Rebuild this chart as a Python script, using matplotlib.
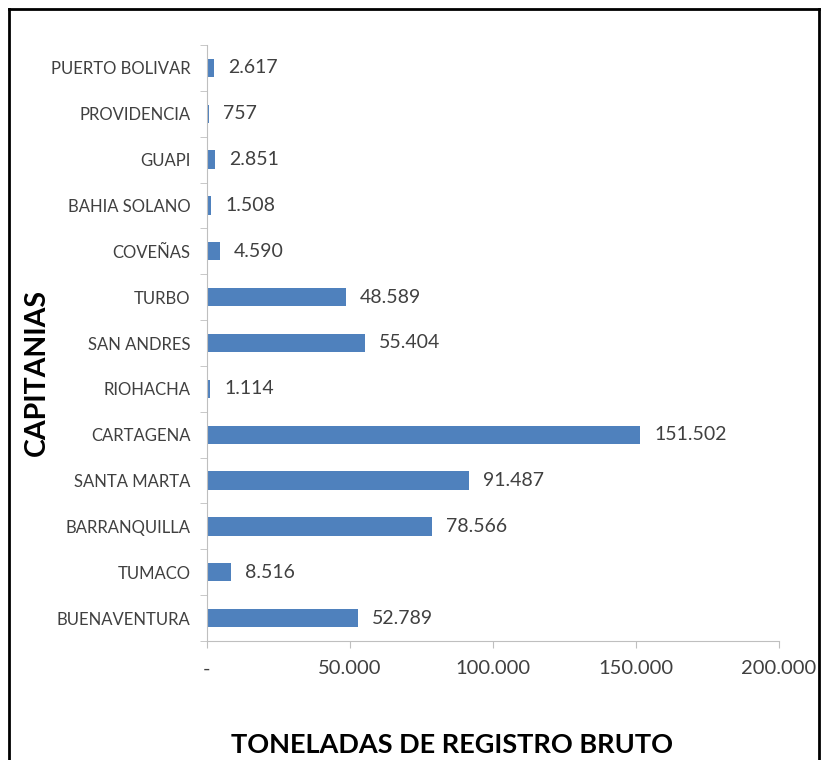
import matplotlib.pyplot as plt
from matplotlib.lines import Line2D
from matplotlib.ticker import FixedLocator, FuncFormatter

##### data #####
capitanias = ["BUENAVENTURA", "TUMACO", "BARRANQUILLA", "SANTA MARTA", "CARTAGENA",
              "RIOHACHA", "SAN ANDRES", "TURBO", "COVEÑAS", "BAHIA SOLANO",
              "GUAPI", "PROVIDENCIA", "PUERTO BOLIVAR"]
toneladas = [52789, 8516, 78566, 91487, 151502, 1114, 55404, 48589, 4590, 1508,
             2851, 757, 2617]
x_ticks = [0, 50000, 100000, 150000, 200000]

def fmt_miles(v, pos=None):
    if v == 0:
        return "-"
    return f"{int(v):,}".replace(",", ".")

plt.rcParams['font.family'] = ['Lato', 'DejaVu Sans']

fig = plt.figure(figsize=(8.24, 7.6), dpi=100)
ax = fig.add_axes([207/824, 1 - 641/760, 572/824, 596/760])

pos = list(range(len(capitanias)))
ax.barh(pos, toneladas, height=0.4, color="#4F81BD")

## value labels ##
for y, v in zip(pos, toneladas):
    ax.annotate(fmt_miles(v), (v, y), xytext=(10, 0), textcoords="offset points",
                va="center", ha="left", fontsize=14, color="#404040")

ax.set_xlim(0, 200000)
ax.set_ylim(-0.5, len(capitanias) - 0.5)
ax.set_xticks(x_ticks)
ax.xaxis.set_major_formatter(FuncFormatter(fmt_miles))
ax.set_yticks(pos)
ax.set_yticklabels(capitanias)
ax.yaxis.set_minor_locator(FixedLocator([p - 0.5 for p in pos] + [len(pos) - 0.5]))

ax.tick_params(axis="y", which="major", length=0, pad=12, labelsize=12, labelcolor="#404040")
ax.tick_params(axis="y", which="minor", length=5, color="#BFBFBF", direction="out")
ax.tick_params(axis="x", length=5, color="#BFBFBF", pad=9, labelsize=14.5, labelcolor="#404040")

for s in ["top", "right"]:
    ax.spines[s].set_visible(False)
for s in ["left", "bottom"]:
    ax.spines[s].set_color("#BFBFBF")

fig.text(452/824, 1 - 745/760, "TONELADAS DE REGISTRO BRUTO", ha="center", va="center",
         fontsize=19.5, fontweight="bold", color="black")
fig.text(37/824, 1 - 372/760, "CAPITANIAS", ha="center", va="center", rotation=90,
         fontsize=20.5, fontweight="bold", color="black")

## frame ##
fr_l, fr_r, fr_t = 9/824, 819/824, 1 - 9/760
fig.add_artist(Line2D([fr_l, fr_l], [0, fr_t], color="black", lw=2))
fig.add_artist(Line2D([fr_r, fr_r], [0, fr_t], color="black", lw=2))
fig.add_artist(Line2D([fr_l, fr_r], [fr_t, fr_t], color="black", lw=2))

fig.savefig("out.png", dpi=100)
